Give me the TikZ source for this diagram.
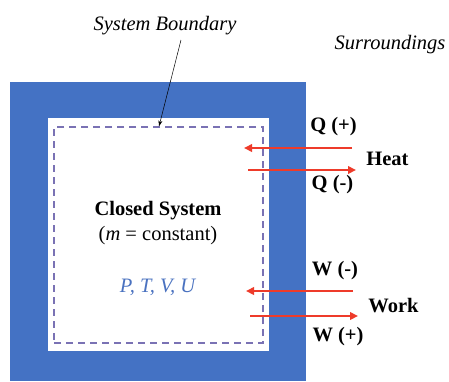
\documentclass[tikz,border=0pt]{standalone}
\usepackage{fontspec}
\setmainfont{Liberation Serif}
\usetikzlibrary{arrows.meta}
\definecolor{sysblue}{HTML}{4472C4}
\definecolor{arrred}{HTML}{EE3B2A}
\definecolor{dashcol}{HTML}{7A72B4}
\definecolor{ptvcol}{HTML}{4A72C0}
\tikzset{
  lbl/.style={inner sep=0pt, font=\fontsize{20.5}{24}\selectfont},
  flow/.style={draw=arrred, line width=2.5pt, -{Triangle[length=8pt,width=7.5pt]}},
}
\begin{document}
\begin{tikzpicture}[x=1pt,y=-1pt]
\useasboundingbox (0,0) rectangle (449,381);
\fill[sysblue] (10,82) rectangle (306,381);
\fill[white] (48,118) rectangle (269,351);
\node[draw=dashcol, line width=1.3pt, dash pattern=on 7pt off 5pt, minimum width=209pt, minimum height=216pt, inner sep=0pt] (bd) at (158.5,235) {};
\node[lbl, font=\fontsize{20.5}{24}\selectfont\itshape] (sb) at (165,26) {System Boundary};
\node[lbl, font=\fontsize{20.5}{24}\selectfont\itshape] (sur) at (390,45) {Surroundings};
\coordinate (sbs) at (181,40);
\draw[-{Stealth[length=6pt,width=4pt]}, line width=0.5pt] (sbs) -- (bd.north -| 159,0);
\node[lbl, font=\fontsize{20.5}{24}\selectfont\bfseries] (cs) at (158,211) {Closed System};
\node[lbl] (mc) at (158,236) {(\textit{m} = constant)};
\node[lbl, text=ptvcol, font=\fontsize{20.5}{24}\selectfont\itshape] (ptv) at (157.5,287) {P, T, V, U};
\node[lbl, font=\fontsize{20.5}{24}\selectfont\bfseries] (qp) at (333.5,127) {Q (+)};
\node[lbl, font=\fontsize{20.5}{24}\selectfont\bfseries] (heat) at (387.5,159) {Heat};
\node[lbl, font=\fontsize{20.5}{24}\selectfont\bfseries] (qm) at (332.5,185) {Q (-)};
\node[lbl, font=\fontsize{20.5}{24}\selectfont\bfseries] (wm) at (335,271) {W (-)};
\node[lbl, font=\fontsize{20.5}{24}\selectfont\bfseries] (work) at (393.5,306) {Work};
\node[lbl, font=\fontsize{20.5}{24}\selectfont\bfseries] (wp) at (338,337) {W (+)};
\coordinate (h1s) at (352,148); \coordinate (h1e) at (244,148);
\coordinate (h2s) at (248,170); \coordinate (h2e) at (356,170);
\coordinate (w1s) at (353,291); \coordinate (w1e) at (246,291);
\coordinate (w2s) at (250,316); \coordinate (w2e) at (358,316);
\draw[flow] (h1s) -- (h1e);
\draw[flow] (h2s) -- (h2e);
\draw[flow] (w1s) -- (w1e);
\draw[flow] (w2s) -- (w2e);
\end{tikzpicture}
\end{document}
